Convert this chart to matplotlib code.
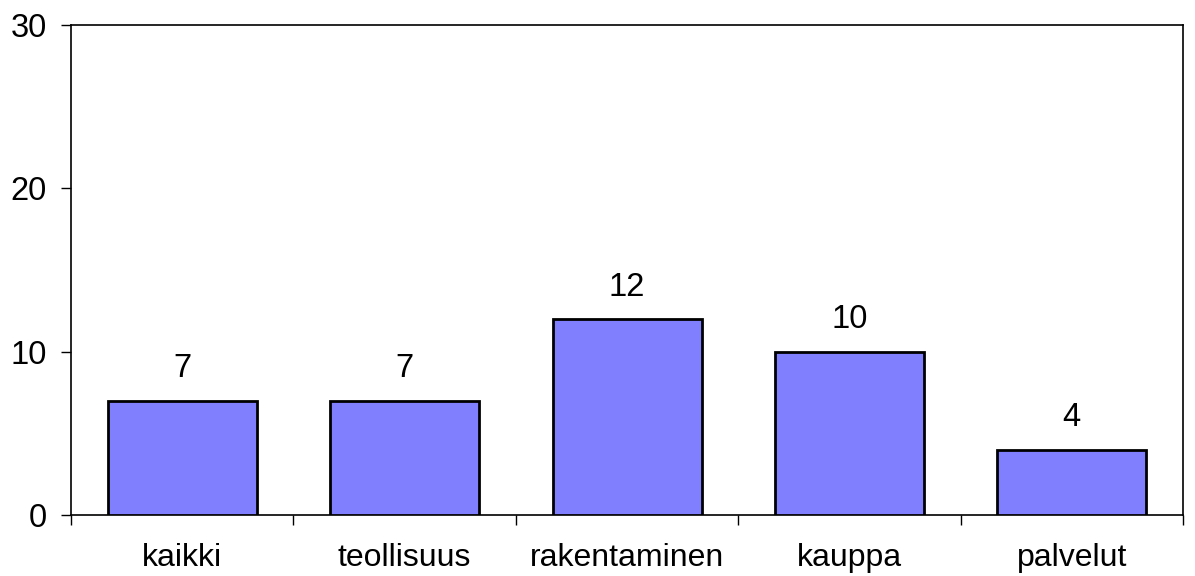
import matplotlib.pyplot as plt

categories = ['kaikki', 'teollisuus', 'rakentaminen', 'kauppa', 'palvelut']
values = [7, 7, 12, 10, 4]
y_ticks = [0, 10, 20, 30]

plt.rcParams['font.family'] = ['Liberation Sans', 'DejaVu Sans']

fig = plt.figure(figsize=(11.95, 5.76), dpi=100)
ax = fig.add_axes([0.0594, 0.106, 0.9306, 0.8506])

x = range(len(categories))
ax.bar(x, values, width=0.67, color='#8080FF', edgecolor='black',
       linewidth=2.0, zorder=3)

# Value labels above the bars.
for xi, v in zip(x, values):
    ax.text(xi, v + 1.0, str(v), ha='center', va='bottom', fontsize=23.5)

ax.set_xlim(-0.5, len(categories) - 0.5)
ax.set_ylim(0, 30)
ax.set_yticks(y_ticks)
ax.tick_params(axis='y', direction='out', length=7.5, width=1, labelsize=23.5,
               pad=10)

# Category labels between the tick marks, ticks at the boundaries.
ax.set_xticks([i - 0.5 for i in range(len(categories) + 1)])
ax.set_xticklabels([])
ax.set_xticks(list(x), minor=True)
ax.set_xticklabels(categories, minor=True, fontsize=23)
ax.tick_params(axis='x', which='major', direction='out', length=7.5, width=1)
ax.tick_params(axis='x', which='minor', length=0, pad=20)

for s in ax.spines.values():
    s.set_linewidth(1.2)

fig.savefig('out.png', dpi=100)
